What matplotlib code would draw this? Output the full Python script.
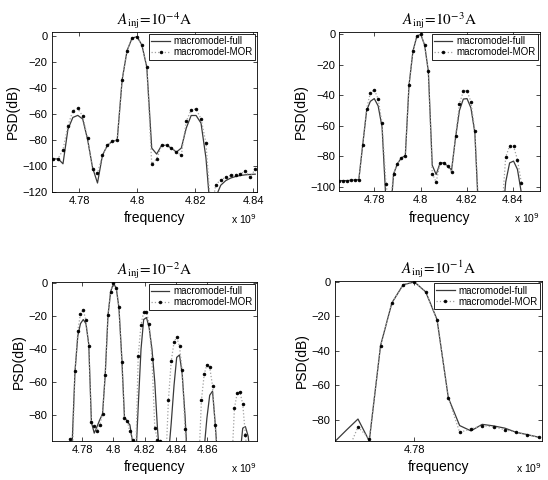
import matplotlib.pyplot as plt

plt.rcParams['font.family'] = ['Liberation Sans', 'DejaVu Sans']

# frequency in GHz (axis shows x 10^9), PSD in dB

# ---- A_inj = 1e-4 A ----
f1 = [4.7710, 4.7727, 4.7744, 4.7761, 4.7778, 4.7795, 4.7812, 4.7829, 4.7846, 4.7863,
      4.7880, 4.7897, 4.7914, 4.7931, 4.7948, 4.7965, 4.7982, 4.7999, 4.8016, 4.8033,
      4.8050, 4.8067, 4.8084, 4.8101, 4.8118, 4.8135, 4.8152, 4.8169, 4.8186, 4.8203,
      4.8220, 4.8237, 4.8254, 4.8271, 4.8288, 4.8305, 4.8322, 4.8339, 4.8356, 4.8373,
      4.8390, 4.8407]
full1 = [-94.8, -94.6, -98.5, -72.0, -62.8, -61.2, -64.0, -80.0, -101.5, -113.3,
         -92.0, -84.3, -81.2, -80.2, -33.8, -11.3, -1.8, -0.5, -7.0, -24.0,
         -86.4, -91.0, -84.3, -84.3, -86.4, -89.5, -86.4, -71.0, -61.3, -61.3,
         -67.2, -94.0, -140.0, -124.0, -115.0, -111.5, -109.5, -108.3, -107.5, -107.0,
         -106.7, -106.5]
mor1 = [-94.8, -94.6, -87.7, -69.2, -57.7, -55.9, -61.8, -78.7, -102.5, -105.9,
        -92.0, -84.3, -81.2, -80.2, -33.8, -11.3, -1.8, -0.5, -7.0, -24.0,
        -98.5, -94.8, -84.3, -84.3, -86.4, -89.5, -92.0, -65.9, -56.9, -56.4,
        -63.8, -82.5, -135.0, -114.6, -110.8, -109.0, -107.4, -106.9, -106.1, -104.3,
        -108.7, -102.5]

# ---- A_inj = 1e-3 A ----
f2 = [4.7648, 4.7665, 4.7682, 4.7698, 4.7715, 4.7732, 4.7749, 4.7766, 4.7782, 4.7799,
      4.7816, 4.7833, 4.7850, 4.7866, 4.7883, 4.7900, 4.7917, 4.7934, 4.7950, 4.7967,
      4.7984, 4.8001, 4.8018, 4.8034, 4.8051, 4.8068, 4.8085, 4.8102, 4.8118, 4.8135,
      4.8152, 4.8169, 4.8186, 4.8202, 4.8219, 4.8236, 4.8253, 4.8270, 4.8286, 4.8303,
      4.8320, 4.8337, 4.8354, 4.8370, 4.8387, 4.8404, 4.8421, 4.8438]
full2 = [-96.0, -96.0, -96.0, -95.8, -95.6, -95.3, -72.4, -50.0, -44.0, -42.2,
         -47.0, -61.0, -110.0, -125.0, -91.6, -84.8, -81.1, -79.6, -33.5, -11.2,
         -1.3, 0.0, -7.2, -24.3, -86.0, -92.0, -84.4, -84.4, -86.6, -89.0,
         -68.0, -50.0, -42.5, -42.2, -48.3, -64.6, -120.0, -130.0, -130.0, -130.0,
         -130.0, -130.0, -125.0, -97.0, -84.4, -83.2, -88.6, -104.0]
mor2 = [-96.0, -96.0, -96.0, -95.8, -95.6, -95.3, -72.4, -48.8, -38.5, -36.3,
        -42.4, -58.4, -98.2, -115.0, -91.6, -84.8, -81.1, -79.6, -33.5, -11.2,
        -1.3, 0.0, -7.2, -24.3, -91.4, -97.0, -84.4, -84.4, -86.6, -90.5,
        -66.9, -45.7, -37.4, -37.0, -44.4, -63.2, -115.0, -120.0, -120.0, -120.0,
        -120.0, -120.0, -115.0, -80.5, -73.4, -73.4, -82.2, -97.5]

# ---- A_inj = 1e-2 A ----
f3 = [4.7719, 4.7736, 4.7754, 4.7772, 4.7789, 4.7807, 4.7824, 4.7842, 4.7859, 4.7877,
      4.7895, 4.7912, 4.7930, 4.7947, 4.7965, 4.7982, 4.8000, 4.8018, 4.8035, 4.8053,
      4.8070, 4.8088, 4.8105, 4.8123, 4.8141, 4.8158, 4.8176, 4.8193, 4.8211, 4.8228,
      4.8246, 4.8264, 4.8281, 4.8299, 4.8316, 4.8334, 4.8351, 4.8369, 4.8387, 4.8404,
      4.8422, 4.8439, 4.8457, 4.8474, 4.8492, 4.8510, 4.8527, 4.8545, 4.8562, 4.8580,
      4.8597, 4.8615, 4.8633, 4.8650, 4.8668, 4.8685, 4.8703, 4.8720, 4.8738, 4.8756,
      4.8773, 4.8791, 4.8808, 4.8826, 4.8843, 4.8861, 4.8878]
full3 = [-110.0, -97.0, -53.5, -32.0, -24.5, -22.0, -24.5, -37.0, -84.4, -91.0,
         -87.0, -83.0, -79.4, -55.9, -19.4, -5.0, 0.0, -3.0, -15.0, -45.0,
         -81.0, -84.0, -86.0, -97.0, -110.0, -75.0, -40.0, -22.0, -20.8, -27.0,
         -40.0, -60.0, -88.0, -110.0, -110.0, -110.0, -105.0, -85.0, -62.0, -45.0,
         -43.5, -55.0, -80.0, -110.0, -110.0, -110.0, -110.0, -110.0, -110.0, -100.0,
         -82.0, -68.0, -65.5, -85.0, -110.0, -110.0, -110.0, -110.0, -110.0, -110.0,
         -110.0, -110.0, -105.0, -88.0, -87.0, -93.0, -110.0]
mor3 = [-94.4, -110.0, -53.5, -28.8, -18.5, -16.4, -22.5, -38.3, -84.4, -86.9,
        -89.5, -86.0, -79.4, -55.9, -19.4, -5.0, 0.0, -3.0, -14.3, -48.0,
        -81.8, -83.8, -90.0, -95.4, -110.0, -44.0, -25.3, -17.2, -17.2, -25.0,
        -46.0, -88.0, -95.0, -95.5, -110.0, -110.0, -71.0, -47.4, -35.7, -32.8,
        -38.3, -52.5, -88.5, -110.0, -110.0, -110.0, -110.0, -110.0, -71.1, -55.1,
        -49.4, -51.0, -62.2, -86.3, -110.0, -110.0, -110.0, -110.0, -110.0, -110.0,
        -75.8, -66.6, -66.0, -73.3, -92.0, -110.0, -110.0]

# ---- A_inj = 1e-1 A ----
f4 = [4.7681, 4.7698, 4.7715, 4.7732, 4.7749, 4.7766, 4.7783, 4.7800, 4.7817, 4.7834,
      4.7851, 4.7868, 4.7885, 4.7902, 4.7919, 4.7936, 4.7953, 4.7970, 4.7987]
full4 = [-92.5, -86.0, -79.7, -92.5, -37.0, -12.2, -1.6, 0.0, -5.8, -21.9,
         -67.4, -83.5, -86.6, -82.8, -83.7, -85.0, -87.4, -88.8, -90.3]
mor4 = [-110.0, -100.0, -84.3, -91.1, -37.0, -12.2, -1.6, 0.0, -5.8, -21.9,
        -67.4, -87.4, -85.5, -83.5, -84.3, -85.9, -87.4, -88.8, -90.3]

titles = [r'$A_{\mathrm{inj}}\!=\!10^{-4}\mathrm{A}$', r'$A_{\mathrm{inj}}\!=\!10^{-3}\mathrm{A}$',
          r'$A_{\mathrm{inj}}\!=\!10^{-2}\mathrm{A}$', r'$A_{\mathrm{inj}}\!=\!10^{-1}\mathrm{A}$']
xticks12 = [4.78, 4.8, 4.82, 4.84]
xticks3 = [4.78, 4.8, 4.82, 4.84, 4.86]
xticks4 = [4.78]

fig = plt.figure(figsize=(5.48, 4.8), dpi=100)


def draw(rect, f, full, mor, title, xlim, ylim, xticks, yticks):
    ax = fig.add_axes(rect)
    ax.plot(f, full, '-', color='#3a3a3a', lw=0.9, label='macromodel-full')
    ax.plot(f, mor, ':', color='#a0a0a0', lw=0.9, marker='o', ms=2.1, mew=0.4,
            mfc='black', mec='black', label='macromodel-MOR')
    ax.set_xlim(xlim)
    ax.set_ylim(ylim)
    ax.set_xticks(xticks)
    ax.set_xticklabels([f'{t:g}' for t in xticks])
    ax.set_yticks(yticks)
    ax.tick_params(direction='in', top=True, right=True, length=3, width=0.5,
                   labelsize=8, pad=3)
    for s in ax.spines.values():
        s.set_linewidth(0.6)
    ax.set_xlabel('frequency', fontsize=10, labelpad=4)
    ax.set_ylabel('PSD(dB)', fontsize=10, labelpad=2)
    ax.set_title(title, fontsize=11, math_fontfamily='stix', pad=5)
    ax.text(1.0, -0.17, r'x 10$^9$', transform=ax.transAxes, ha='right', va='center',
            fontsize=7.5, math_fontfamily='dejavusans')
    leg = ax.legend(loc='upper right', fontsize=7, handlelength=1.9, handletextpad=0.4,
                    borderpad=0.25, labelspacing=0.1, borderaxespad=0.2,
                    fancybox=False, edgecolor='black', framealpha=1)
    leg.get_frame().set_linewidth(0.6)
    return ax


draw([0.0943, 0.6006, 0.3752, 0.3327], f1, full1, mor1, titles[0],
     (4.7705, 4.8414), (-120, 3), xticks12, [-120, -100, -80, -60, -40, -20, 0])
draw([0.6195, 0.6015, 0.3659, 0.3319], f2, full2, mor2, titles[1],
     (4.7648, 4.8519), (-103, 1.5), xticks12, [-100, -80, -60, -40, -20, 0])
draw([0.0943, 0.0819, 0.3746, 0.3306], f3, full3, mor3, titles[2],
     (4.7605, 4.8917), (-95.6, 0.8), xticks3, [-80, -60, -40, -20, 0])
draw([0.6108, 0.0819, 0.3783, 0.3321], f4, full4, mor4, titles[3],
     (4.7680, 4.7992), (-92.3, 0.4), xticks4, [-80, -60, -40, -20, 0])

fig.savefig('out.png', dpi=100)
